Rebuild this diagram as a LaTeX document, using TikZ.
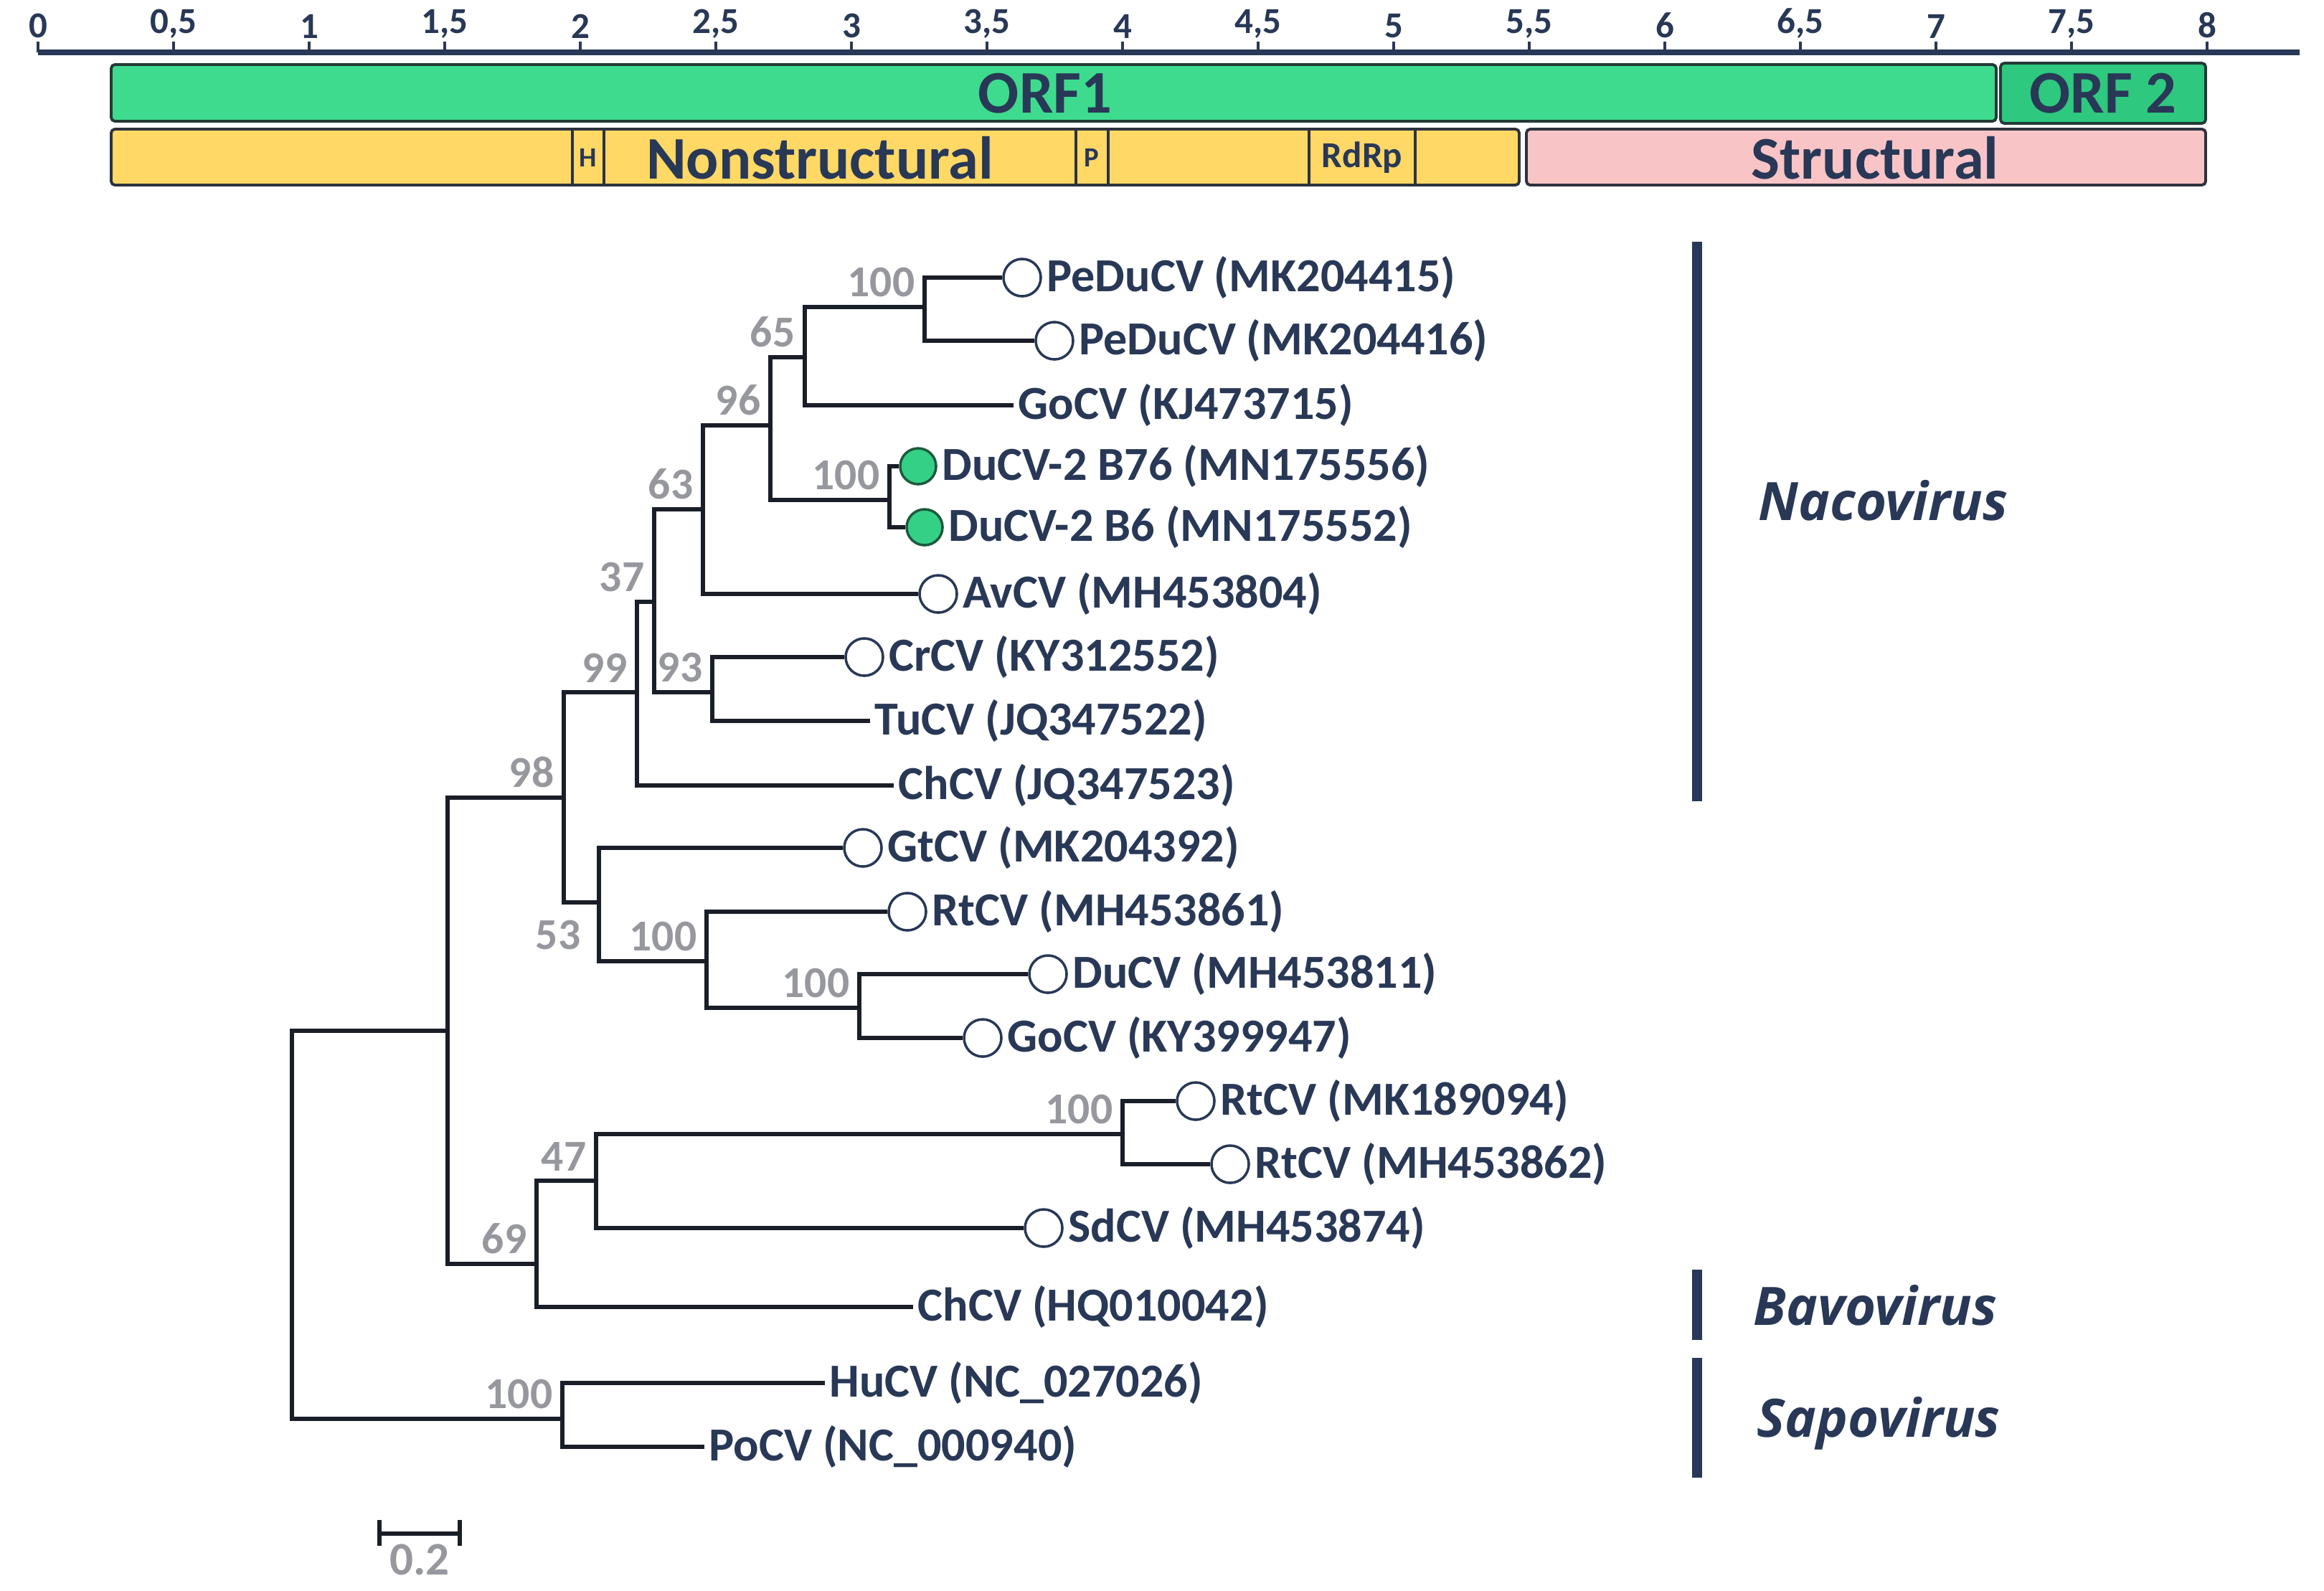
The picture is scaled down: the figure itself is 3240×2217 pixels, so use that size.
\documentclass[tikz,border=0pt]{standalone}
\usepackage{fontspec}
\setmainfont{Carlito}
\newfontfamily\genusfont{Open Sans}
\usetikzlibrary{positioning}
\usetikzlibrary{math}

\definecolor{navy}{RGB}{40,56,86}
\definecolor{treeline}{RGB}{26,30,40}
\definecolor{bootgray}{RGB}{150,152,158}
\definecolor{orfone}{RGB}{62,219,142}
\definecolor{orftwo}{RGB}{46,200,126}
\definecolor{orfedge}{RGB}{34,58,54}
\definecolor{nsyellow}{RGB}{255,216,102}
\definecolor{stpink}{RGB}{249,196,198}
\definecolor{boxedge}{RGB}{45,50,62}
\definecolor{ducvgreen}{RGB}{52,208,134}
\definecolor{ducvedge}{RGB}{28,90,62}

\tikzset{
  axisline/.style={navy, line width=2.3pt},
  axistick/.style={navy, line width=0.9pt},
  ticklabel/.style={text=navy, font=\bfseries\fontsize{14.5}{16}\selectfont, inner sep=0pt, anchor=south},
  orfbox/.style={draw=orfedge, line width=1.1pt, rounded corners=1.5pt},
  genebox/.style={draw=boxedge, line width=1.1pt, rounded corners=1.5pt},
  barlabel/.style={text=navy, font=\bfseries\fontsize{24}{26}\selectfont, inner sep=0pt},
  branch/.style={treeline, line width=1.8pt},
  boot/.style={text=bootgray, font=\bfseries\fontsize{17.5}{20}\selectfont, inner sep=0pt,
    anchor=south east, xshift=-0.13cm, yshift=0.13cm},
  bootbelow/.style={boot, anchor=north east, xshift=-0.12cm, yshift=-0.37cm},
  leaf/.style={text=navy, font=\bfseries\fontsize{18.8}{22}\selectfont, anchor=west, inner sep=0.06cm},
  refvirus/.style={circle, draw=navy, line width=1pt, fill=white, minimum size=0.52cm, inner sep=0pt},
  newvirus/.style={circle, draw=ducvedge, line width=1pt, fill=ducvgreen, minimum size=0.5cm, inner sep=0pt},
  clade/.style={navy, line width=4pt},
  genus/.style={text=navy, font=\genusfont\bfseries\itshape\fontsize{21}{24}\selectfont, anchor=west, inner sep=0pt}
}

\begin{document}
\begin{tikzpicture}[x=0.01cm, y=-0.01cm]
  \tikzmath{
    \kb = 378;
    \xo = 53;
    \ya = 73;
  }
  \path[use as bounding box, fill=white] (0,0) rectangle (3240,2217);

  % genome scale in kb
  \draw[axisline] (\xo,\ya) -- (3206,\ya);
  \foreach \k/\t [count=\i] in {0/0,0.5/{0,5},1/1,1.5/{1,5},2/2,2.5/{2,5},3/3,3.5/{3,5},4/4,4.5/{4,5},5/5,5.5/{5,5},6/6,6.5/{6,5},7/7,7.5/{7,5},8/8}{
    \draw[axistick] ({\xo+\kb*\k},\ya) -- ({\xo+\kb*\k},58);
    \node[ticklabel] (tick\i) at ({\xo+\kb*\k},54) {\t};
  }

  % open reading frames
  \filldraw[orfbox, fill=orfone] (155,90) rectangle (2783,169);
  \filldraw[orfbox, fill=orftwo] (2789,88) rectangle (3075,172);
  \node[barlabel] (orf1) at (1457,130) {ORF1};
  \node[barlabel] (orf2) at (2932,130) {ORF 2};

  % proteins
  \filldraw[genebox, fill=nsyellow] (155,180) rectangle (2118,258);
  \filldraw[genebox, fill=stpink] (2128,180) rectangle (3075,258);
  \foreach \x in {798,842,1500,1545,1825,1973}
    \draw[boxedge, line width=0.9pt] (\x,180) -- (\x,258);
  \node[barlabel] (nonstr) at (1143,220) {Nonstructural};
  \node[barlabel] (struct) at (2614,220) {Structural};
  \node[barlabel, font=\bfseries\fontsize{11}{12}\selectfont] (hel) at (820,220) {H};
  \node[barlabel, font=\bfseries\fontsize{11}{12}\selectfont] (pro) at (1522,220) {P};
  \node[barlabel, font=\bfseries\fontsize{14.5}{16}\selectfont] (rdrp) at (1899,220) {RdRp};

  % leaves
  \node[refvirus] (pd1) at (1425,387) {};
  \node[leaf] (pd1t) at (pd1.east) {PeDuCV (MK204415)};
  \node[refvirus] (pd2) at (1470,475) {};
  \node[leaf] (pd2t) at (pd2.east) {PeDuCV (MK204416)};
  \node[leaf] (go1) at (1413,565) {GoCV (KJ473715)};
  \node[newvirus] (du2a) at (1280,650) {};
  \node[leaf] (du2at) at (du2a.east) {DuCV-2 B76 (MN175556)};
  \node[newvirus] (du2b) at (1289,735) {};
  \node[leaf] (du2bt) at (du2b.east) {DuCV-2 B6 (MN175552)};
  \node[refvirus] (av) at (1308,828) {};
  \node[leaf] (avt) at (av.east) {AvCV (MH453804)};
  \node[refvirus] (cr) at (1205,916) {};
  \node[leaf] (crt) at (cr.east) {CrCV (KY312552)};
  \node[leaf] (tu) at (1213,1005) {TuCV (JQ347522)};
  \node[leaf] (ch1) at (1246,1095) {ChCV (JQ347523)};
  \node[refvirus] (gt) at (1203,1182) {};
  \node[leaf] (gtt) at (gt.east) {GtCV (MK204392)};
  \node[refvirus] (rt1) at (1265,1271) {};
  \node[leaf] (rt1t) at (rt1.east) {RtCV (MH453861)};
  \node[refvirus] (du) at (1461,1358) {};
  \node[leaf] (dut) at (du.east) {DuCV (MH453811)};
  \node[refvirus] (go2) at (1370,1447) {};
  \node[leaf] (go2t) at (go2.east) {GoCV (KY399947)};
  \node[refvirus] (rt2) at (1667,1535) {};
  \node[leaf] (rt2t) at (rt2.east) {RtCV (MK189094)};
  \node[refvirus] (rt3) at (1715,1623) {};
  \node[leaf] (rt3t) at (rt3.east) {RtCV (MH453862)};
  \node[refvirus] (sd) at (1455,1712) {};
  \node[leaf] (sdt) at (sd.east) {SdCV (MH453874)};
  \node[leaf] (ch2) at (1273,1822) {ChCV (HQ010042)};
  \node[leaf] (hu) at (1150,1928) {HuCV (NC\_027026)};
  \node[leaf] (po) at (982,2017) {PoCV (NC\_000940)};

  % internal nodes
  \coordinate (root) at (407,1707);
  \coordinate (nA) at (624,1437);
  \coordinate (n98) at (786,1112);
  \coordinate (n99) at (888,965);
  \coordinate (n37) at (912,839);
  \coordinate (n63) at (980,710);
  \coordinate (n96) at (1074,593);
  \coordinate (n65) at (1122,498);
  \coordinate (n100a) at (1289,428);
  \coordinate (n100b) at (1240,697);
  \coordinate (n93) at (993,965);
  \coordinate (n53) at (835,1258);
  \coordinate (n100c) at (985,1340);
  \coordinate (n100d) at (1198,1405);
  \coordinate (n69) at (748,1762);
  \coordinate (n47) at (831,1646);
  \coordinate (n100e) at (1565,1581);
  \coordinate (nsapo) at (784,1978);

  \draw[branch] (root) |- (nA);
  \draw[branch] (root) |- (nsapo);
  \draw[branch] (nA) |- (n98);
  \draw[branch] (nA) |- (n69);
  \draw[branch] (n98) |- (n99);
  \draw[branch] (n98) |- (n53);
  \draw[branch] (n99) |- (n37);
  \draw[branch] (n99) |- (ch1.west);
  \draw[branch] (n37) |- (n63);
  \draw[branch] (n37) |- (n93);
  \draw[branch] (n63) |- (n96);
  \draw[branch] (n63) |- (av.west);
  \draw[branch] (n96) |- (n65);
  \draw[branch] (n96) |- (n100b);
  \draw[branch] (n65) |- (n100a);
  \draw[branch] (n65) |- (go1.west);
  \draw[branch] (n100a) |- (pd1.west);
  \draw[branch] (n100a) |- (pd2.west);
  \draw[branch] (n100b) |- (du2a.west);
  \draw[branch] (n100b) |- (du2b.west);
  \draw[branch] (n93) |- (cr.west);
  \draw[branch] (n93) |- (tu.west);
  \draw[branch] (n53) |- (gt.west);
  \draw[branch] (n53) |- (n100c);
  \draw[branch] (n100c) |- (rt1.west);
  \draw[branch] (n100c) |- (n100d);
  \draw[branch] (n100d) |- (du.west);
  \draw[branch] (n100d) |- (go2.west);
  \draw[branch] (n69) |- (n47);
  \draw[branch] (n69) |- (ch2.west);
  \draw[branch] (n47) |- (n100e);
  \draw[branch] (n47) |- (sd.west);
  \draw[branch] (n100e) |- (rt2.west);
  \draw[branch] (n100e) |- (rt3.west);
  \draw[branch] (nsapo) |- (hu.west);
  \draw[branch] (nsapo) |- (po.west);

  % bootstrap values
  \node[boot] (b100a) at (n100a) {100};
  \node[boot] (b65) at (n65) {65};
  \node[boot] (b96) at (n96) {96};
  \node[boot] (b100b) at (n100b) {100};
  \node[boot] (b63) at (n63) {63};
  \node[boot] (b37) at (n37) {37};
  \node[boot] (b99) at (n99) {99};
  \node[boot] (b93) at (n93) {93};
  \node[boot] (b98) at (n98) {98};
  \node[bootbelow] (b53) at (n53) {53};
  \node[boot] (b100c) at (n100c) {100};
  \node[boot] (b100d) at (n100d) {100};
  \node[boot] (b100e) at (n100e) {100};
  \node[boot] (b47) at (n47) {47};
  \node[boot] (b69) at (n69) {69};
  \node[boot] (b100s) at (nsapo) {100};

  % scale bar
  \coordinate (sbl) at (529,2138);
  \coordinate (sbr) at (641,2138);
  \draw[branch] (sbl) -- (sbr);
  \draw[branch] ([yshift=0.19cm]sbl) -- ([yshift=-0.17cm]sbl);
  \draw[branch] ([yshift=0.19cm]sbr) -- ([yshift=-0.17cm]sbr);
  \node[text=bootgray, font=\bfseries\fontsize{18.5}{20}\selectfont, inner sep=0pt] (sbt) at (585,2174) {0.2};

  % genera
  \draw[clade] (2366,337) -- (2366,1117);
  \draw[clade] (2366,1770) -- (2366,1868);
  \draw[clade] (2366,1893) -- (2366,2060);
  \node[genus] (naco) at (2451,698) {Nacovirus};
  \node[genus] (bavo) at (2444,1820) {Bavovirus};
  \node[genus] (sapo) at (2449,1984) {Sapovirus};
\end{tikzpicture}
\end{document}
